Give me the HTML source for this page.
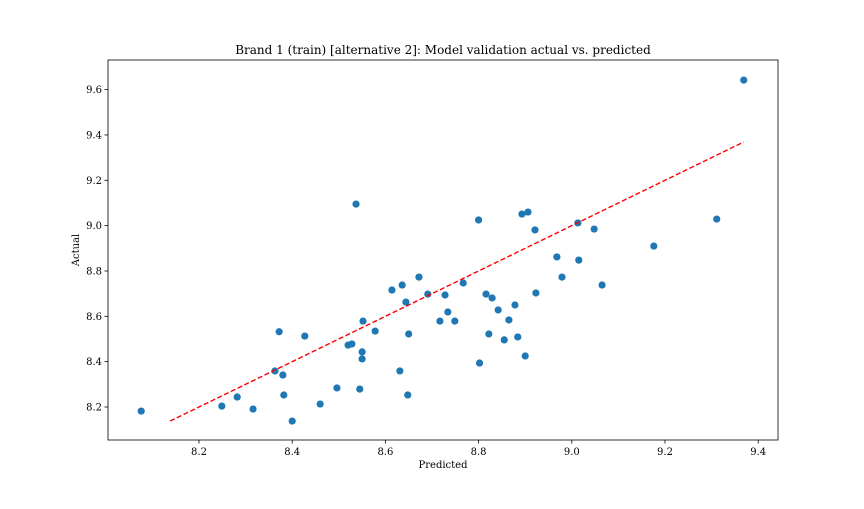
<!DOCTYPE html>
<html><head><meta charset="utf-8"><style>
body{margin:0;background:#fff}
svg text{font-family:"DejaVu Serif","Liberation Serif",serif;fill:#000}
</style></head><body>
<svg id="chart" width="864" height="504">
<rect x="0" y="0" width="864" height="504" fill="#fff"/>
<g id="plot"></g>
</svg>
<script>
const predicted=[8.076,8.249,8.282,8.316,8.363,8.372,8.380,8.382,8.400,8.427,8.460,8.496,8.520,8.528,8.537,8.545,8.550,8.550,8.552,8.578,8.614,8.631,8.636,8.644,8.648,8.650,8.672,8.691,8.717,8.728,8.734,8.749,8.767,8.800,8.802,8.816,8.822,8.829,8.842,8.855,8.865,8.878,8.884,8.893,8.900,8.906,8.921,8.923,8.968,8.979,9.013,9.015,9.048,9.065,9.176,9.311,9.369];
const actual=[8.182,8.204,8.244,8.191,8.359,8.532,8.341,8.253,8.138,8.513,8.213,8.284,8.473,8.478,9.095,8.279,8.443,8.412,8.579,8.535,8.716,8.359,8.738,8.663,8.253,8.522,8.773,8.698,8.579,8.694,8.619,8.579,8.747,9.025,8.394,8.698,8.522,8.681,8.628,8.496,8.584,8.650,8.509,9.051,8.425,9.060,8.981,8.703,8.862,8.773,9.012,8.848,8.985,8.738,8.910,9.029,9.642];
const xTicks=[8.2,8.4,8.6,8.8,9.0,9.2,9.4];
const yTicks=[8.2,8.4,8.6,8.8,9.0,9.2,9.4,9.6];
const refLine=[8.138,9.369];
const L=108,R=778,T=60,B=440;
const sx=v=>199+(v-8.2)*466;
const sy=v=>407-(v-8.2)*226.7;
const NS="http://www.w3.org/2000/svg";
const g=document.getElementById('plot');
function mk(t,a,p){const e=document.createElementNS(NS,t);for(const k in a)e.setAttribute(k,a[k]);(p||g).appendChild(e);return e;}
const ax=mk('rect',{x:L,y:T,width:R-L,height:B-T,fill:'none',stroke:'#000','stroke-width':0.8});


xTicks.forEach(v=>{const x=sx(v);
const l=mk('line',{x1:x,x2:x,y1:B,y2:B+3.5,stroke:'#000','stroke-width':0.8});


const t=mk('text',{x:x,y:B+15,'font-size':10,'text-anchor':'middle'});t.textContent=v.toFixed(1);

});
yTicks.forEach(v=>{const y=sy(v);
const l=mk('line',{x1:L-3.5,x2:L,y1:y,y2:y,stroke:'#000','stroke-width':0.8});


const t=mk('text',{x:L-6,y:y+3.5,'font-size':10,'text-anchor':'end'});t.textContent=v.toFixed(1);

});
predicted.forEach((p,i)=>{const c=mk('circle',{cx:sx(p),cy:sy(actual[i]),r:3.6,fill:'#1f77b4'});

});
const rl=mk('line',{x1:sx(refLine[0]),y1:sy(refLine[0]),x2:sx(refLine[1]),y2:sy(refLine[1]),stroke:'#ff0000','stroke-width':1.4,'stroke-dasharray':'5,2.5'});


const ti=mk('text',{x:443,y:54,'font-size':12,'text-anchor':'middle'});ti.textContent='Brand 1 (train) [alternative 2]: Model validation actual vs. predicted';


const xl=mk('text',{x:443,y:468,'font-size':10,'text-anchor':'middle'});xl.textContent='Predicted';


const yl=mk('text',{x:79,y:250,'font-size':10,'text-anchor':'middle',transform:'rotate(-90 79 250)'});yl.textContent='Actual';


</script>
</body></html>
